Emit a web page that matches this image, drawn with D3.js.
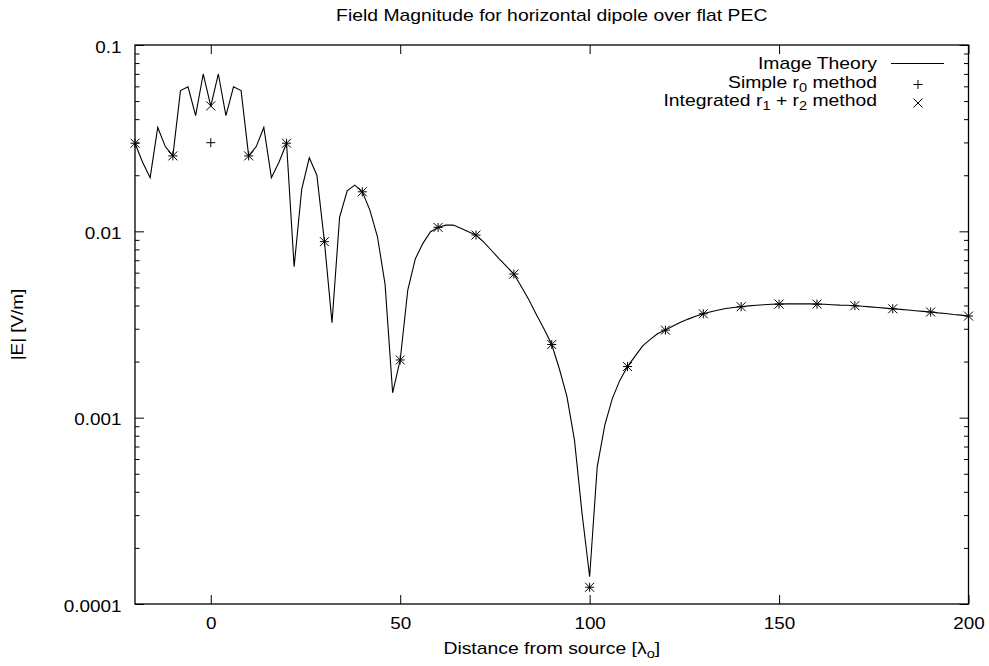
<!DOCTYPE html>
<html>
<head>
<meta charset="utf-8">
<script src="https://cdn.jsdelivr.net/npm/d3@7"></script>
<style>
  body { margin: 0; background: #fff; }
  svg { display: block; }
  text { font-family: "Liberation Sans", Arial, Helvetica, sans-serif; font-size: 16px; fill: #000; }
</style>
</head>
<body>
<div id="chart"></div>
<script>
// distances [lambda_o] where the image-theory curve was sampled
const distances = [-20,-18,-16,-14,-12,-10,-8,-6,-4,-2,0,2,4,6,8,10,12,14,16,18,20,
  22,24,26,28,30,32,34,36,38,40,42,44,46,48,50,52,54,56,58,60,62,64,66,68,70,
  72,74,76,78,80,82,84,86,88,90,92,94,96,98,100,102,104,106,108,110,112,114,116,118,120,
  122,124,126,128,130,132,134,136,138,140,142,144,146,148,150,152,154,156,158,160,
  162,164,166,168,170,172,174,176,178,180,182,184,186,188,190,192,194,196,198,200]
const imageTheory = [0.0297,0.0235,0.0194,0.0361,0.0285,0.0254,0.0569,0.0597,0.0418,0.0699,0.0470,
  0.0699,0.0418,0.0597,0.0569,0.0254,0.0285,0.0361,0.0194,0.0235,0.0297,
  0.00646,0.0168,0.0248,0.0200,0.0088,0.00323,0.0119,0.0165,0.0177,0.0163,0.0130,0.00935,0.00521,0.00136,
  0.00204,0.00484,0.00713,0.00862,0.00995,0.0105,0.0108,0.0108,0.0104,0.00995,0.00955,
  0.00879,0.00794,0.00716,0.00651,0.0059,0.00504,0.00428,0.00356,0.00298,0.00247,0.00183,0.0013,0.000758,0.000306,
  0.00014,0.000545,0.000912,0.00127,0.00159,0.00188,0.00214,0.00243,0.00263,0.00283,0.00295,
  0.00310,0.00325,0.00338,0.00350,0.00361,0.00370,0.00378,0.00385,0.00390,0.00394,
  0.00398,0.00401,0.00404,0.00406,0.00407,0.00408,0.00408,0.00408,0.00408,0.00407,
  0.00406,0.00404,0.00402,0.00401,0.00399,0.00396,0.00393,0.00390,0.00387,0.00384,
  0.00381,0.00378,0.00375,0.00372,0.00369,0.00365,0.00362,0.00358,0.00355,0.00351]

// point methods, every 10 lambda_o
const pointDistances = [-20,-10,0,10,20,30,40,50,60,70,80,90,100,110,120,130,140,150,160,170,180,190,200]
const simpleR0 = [0.0297,0.0254,0.0299,0.0254,0.0297,0.0088,0.0163,0.00204,0.0105,0.00955,0.0059,0.00247,
  0.000123,0.00188,0.00295,0.00361,0.00394,0.00407,0.00407,0.00399,0.00384,0.00369,0.00351]
const integratedR1R2 = [0.0297,0.0254,0.0471,0.0254,0.0297,0.0088,0.0163,0.00204,0.0105,0.00955,0.0059,0.00247,
  0.000123,0.00188,0.00295,0.00361,0.00394,0.00407,0.00407,0.00399,0.00384,0.00369,0.00351]

const xTicks = [0, 50, 100, 150, 200]
const yTicks = [0.0001, 0.001, 0.01, 0.1]
const yTickLabels = ["0.0001", "0.001", "0.01", "0.1"]

const MARGIN = {TOP: 45, BOTTOM: 62, LEFT: 135, RIGHT: 20.5}
const WIDTH = 989 - MARGIN.LEFT - MARGIN.RIGHT
const HEIGHT = 666 - MARGIN.TOP - MARGIN.BOTTOM
const SX = 1.18   // the original text is a bit wider than it is tall
const SX_T = 1.21 // titles and key
const MAJOR = 9, MINOR = 4.5, PT = 4.5

const svg = d3.select("#chart").append("svg")
  .attr("width", 989).attr("height", 666)
const g = svg.append("g")
  .attr("transform", `translate(${MARGIN.LEFT},${MARGIN.TOP})`)

const x = d3.scaleLinear().domain([-20, 200]).range([0, WIDTH])
const y = d3.scaleLog().domain([0.0001, 0.1]).range([HEIGHT, 0])

function label(parent, tx, ty, txt, anchor) {
  return parent.append("text")
    .attr("transform", `translate(${tx},${ty}) scale(${SX_T},1)`)
    .attr("text-anchor", anchor || "middle")
    .text(txt)
}

// ticks, pointing inwards on all four sides
const yMinor = y.ticks().filter(v => !yTicks.some(t => Math.abs(t - v) / t < 1e-6))
function axisGroup(axis, tr) {
  const a = g.append("g").attr("transform", tr).call(axis)
  a.select(".domain").remove()
  a.selectAll("line").attr("stroke", "#000").attr("stroke-width", 1)
  return a
}
const left = axisGroup(d3.axisLeft(y).tickValues(yTicks).tickSizeInner(-MAJOR).tickSizeOuter(0)
  .tickFormat((d, i) => yTickLabels[i]), "translate(0,0)")
axisGroup(d3.axisLeft(y).tickValues(yMinor).tickSizeInner(-MINOR).tickSizeOuter(0).tickFormat(""), "translate(0,0)")
axisGroup(d3.axisRight(y).tickValues(yTicks).tickSizeInner(-MAJOR).tickSizeOuter(0).tickFormat(""), `translate(${WIDTH},0)`)
axisGroup(d3.axisRight(y).tickValues(yMinor).tickSizeInner(-MINOR).tickSizeOuter(0).tickFormat(""), `translate(${WIDTH},0)`)
const bottom = axisGroup(d3.axisBottom(x).tickValues(xTicks).tickSizeInner(-MAJOR).tickSizeOuter(0), `translate(0,${HEIGHT})`)
axisGroup(d3.axisTop(x).tickValues(xTicks).tickSizeInner(-MAJOR).tickSizeOuter(0).tickFormat(""), "translate(0,0)")

left.selectAll("text")
  .attr("x", null).attr("dy", "0.35em")
  .attr("text-anchor", "end")
  .attr("transform", `translate(-13.5,1.5) scale(${SX},1)`)
bottom.selectAll("text")
  .attr("y", null).attr("dy", null)
  .attr("transform", `translate(0,24.5) scale(${SX},1)`)
svg.selectAll(".tick text").style("font-size", "16px").style("font-family", null)

// frame
g.append("rect")
  .attr("width", WIDTH).attr("height", HEIGHT)
  .attr("fill", "none").attr("stroke", "#000").attr("stroke-width", 1.3)

// image theory curve
const lineData = distances.map((d, i) => ({x: d, v: imageTheory[i]}))
g.append("path")
  .datum(lineData)
  .attr("fill", "none").attr("stroke", "#000").attr("stroke-width", 1.1)
  .attr("d", d3.line().x(d => x(d.x)).y(d => y(d.v)))

const plusPath = `M${-PT},0H${PT}M0,${-PT}V${PT}`
const timesPath = `M${-PT},${-PT}L${PT},${PT}M${-PT},${PT}L${PT},${-PT}`

g.selectAll(".simple").data(pointDistances.map((d, i) => ({x: d, v: simpleR0[i]})))
  .enter().append("path").attr("class", "simple")
  .attr("transform", d => `translate(${x(d.x)},${y(d.v)})`)
  .attr("d", plusPath).attr("stroke", "#000").attr("fill", "none")

g.selectAll(".integrated").data(pointDistances.map((d, i) => ({x: d, v: integratedR1R2[i]})))
  .enter().append("path").attr("class", "integrated")
  .attr("transform", d => `translate(${x(d.x)},${y(d.v)})`)
  .attr("d", timesPath).attr("stroke", "#000").attr("fill", "none")

// key
const key = svg.append("g")
const keyText = 877, keyRows = [69, 87.5, 106]
label(key, keyText, keyRows[0], "Image Theory", "end")
key.append("line")
  .attr("x1", 891).attr("x2", 944).attr("y1", keyRows[0] - 5.5).attr("y2", keyRows[0] - 5.5)
  .attr("stroke", "#000").attr("stroke-width", 1.1)

const k2 = label(key, keyText, keyRows[1], "Simple r", "end")
k2.append("tspan").attr("dy", 4).style("font-size", "12px").text("0")
k2.append("tspan").attr("dy", -4).text(" method")
key.append("path").attr("transform", `translate(918,${keyRows[1] - 3})`)
  .attr("d", plusPath).attr("stroke", "#000")

const k3 = label(key, keyText, keyRows[2], "Integrated r", "end")
k3.append("tspan").attr("dy", 4).style("font-size", "12px").text("1")
k3.append("tspan").attr("dy", -4).text(" + r")
k3.append("tspan").attr("dy", 4).style("font-size", "12px").text("2")
k3.append("tspan").attr("dy", -4).text(" method")
key.append("path").attr("transform", `translate(918,${keyRows[2] - 3})`)
  .attr("d", timesPath).attr("stroke", "#000")

// titles
label(svg, MARGIN.LEFT + WIDTH / 2, 21, "Field Magnitude for horizontal dipole over flat PEC")

const xl = label(svg, MARGIN.LEFT + WIDTH / 2, 654, "Distance from source [λ")
xl.append("tspan").attr("dy", 4).style("font-size", "12px").text("o")
xl.append("tspan").attr("dy", -4).text("]")

svg.append("text")
  .attr("transform", `translate(23,${MARGIN.TOP + HEIGHT / 2}) rotate(-90) scale(${SX},1)`)
  .attr("text-anchor", "middle")
  .text("|E| [V/m]")
</script>
</body>
</html>
